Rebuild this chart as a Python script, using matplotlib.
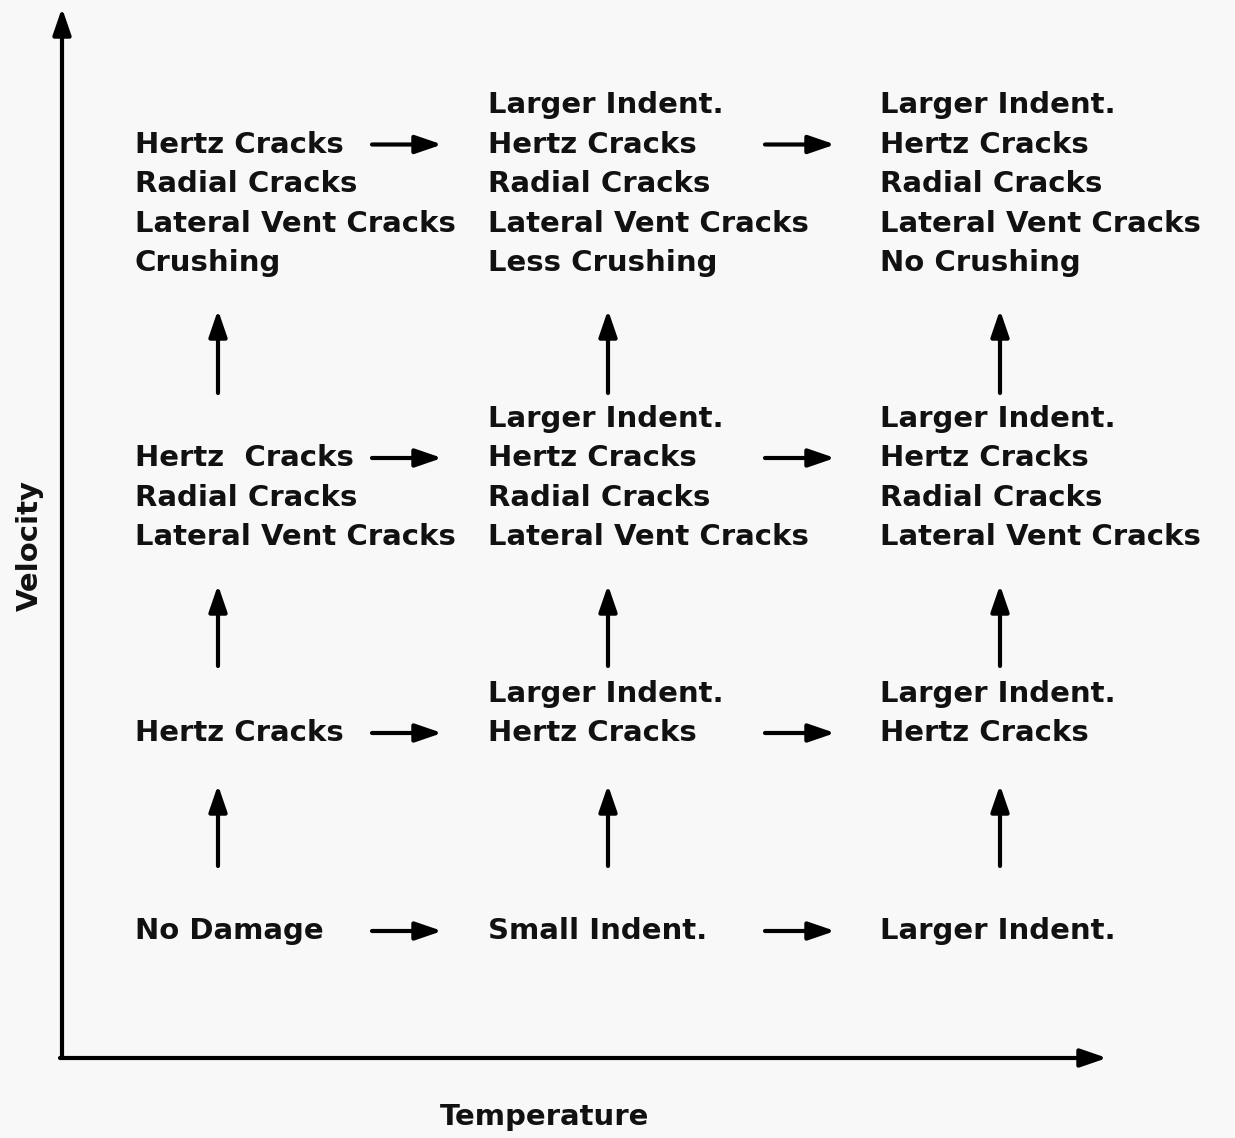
import matplotlib.pyplot as plt

# contenu de chaque case (colonne = température, ligne = vitesse)
colunas_x = [135, 488, 880]
linhas_y = [931, 733, 537, 263]
setas_x = [218, 608, 1000]
# (cauda, ponta) das setas verticais entre as linhas
setas_y = [(866, 785), (666, 585), (393, 310)]

celulas = [
    [["No Damage"], ["Small Indent."], ["Larger Indent."]],
    [["Hertz Cracks"], ["Larger Indent.", "Hertz Cracks"], ["Larger Indent.", "Hertz Cracks"]],
    [["Hertz  Cracks", "Radial Cracks", "Lateral Vent Cracks"],
     ["Larger Indent.", "Hertz Cracks", "Radial Cracks", "Lateral Vent Cracks"],
     ["Larger Indent.", "Hertz Cracks", "Radial Cracks", "Lateral Vent Cracks"]],
    [["Hertz Cracks", "Radial Cracks", "Lateral Vent Cracks", "Crushing"],
     ["Larger Indent.", "Hertz Cracks", "Radial Cracks", "Lateral Vent Cracks", "Less Crushing"],
     ["Larger Indent.", "Hertz Cracks", "Radial Cracks", "Lateral Vent Cracks", "No Crushing"]],
]

rotulo_x = "Temperature"
rotulo_y = "Velocity"

espaco = 39.5
fonte = 21

fig = plt.figure(figsize=(12.35, 11.38), dpi=100, facecolor="#f8f8f8")
ax = fig.add_axes([0, 0, 1, 1])
ax.set_xlim(0, 1235)
ax.set_ylim(1138, 0)
ax.axis("off")

seta = dict(arrowstyle="-|>,head_length=1.6,head_width=0.55", color="black", lw=3,
            shrinkA=0, shrinkB=0)
estilo = dict(fontsize=fonte, fontweight="bold", color="#111111")

# eixos
ax.annotate("", xy=(62, 8), xytext=(62, 1058), arrowprops=seta)
ax.annotate("", xy=(1107, 1058), xytext=(60, 1058), arrowprops=seta)
ax.text(30, 545, rotulo_y, rotation=90, ha="center", va="center", **estilo)
ax.text(545, 1117, rotulo_x, ha="center", va="center", **estilo)

# textos
for i, linha in enumerate(celulas):
    for j, linhas in enumerate(linha):
        n = len(linhas)
        for k, t in enumerate(linhas):
            y = linhas_y[i] - espaco * (n - 1 - k)
            ax.text(colunas_x[j], y, t, ha="left", va="center", **estilo)

# setas horizontais (na altura da primeira linha da coluna 0)
for i, linha in enumerate(celulas):
    n0 = len(linha[0])
    y = linhas_y[i] - espaco * (n0 - 1)
    ax.annotate("", xy=(442, y), xytext=(372, y), arrowprops=seta)
    ax.annotate("", xy=(835, y), xytext=(765, y), arrowprops=seta)

# setas verticais entre as linhas
for cauda, ponta in setas_y:
    for x in setas_x:
        ax.annotate("", xy=(x, ponta), xytext=(x, cauda), arrowprops=seta)

fig.savefig("out.png", dpi=100, facecolor=fig.get_facecolor())
